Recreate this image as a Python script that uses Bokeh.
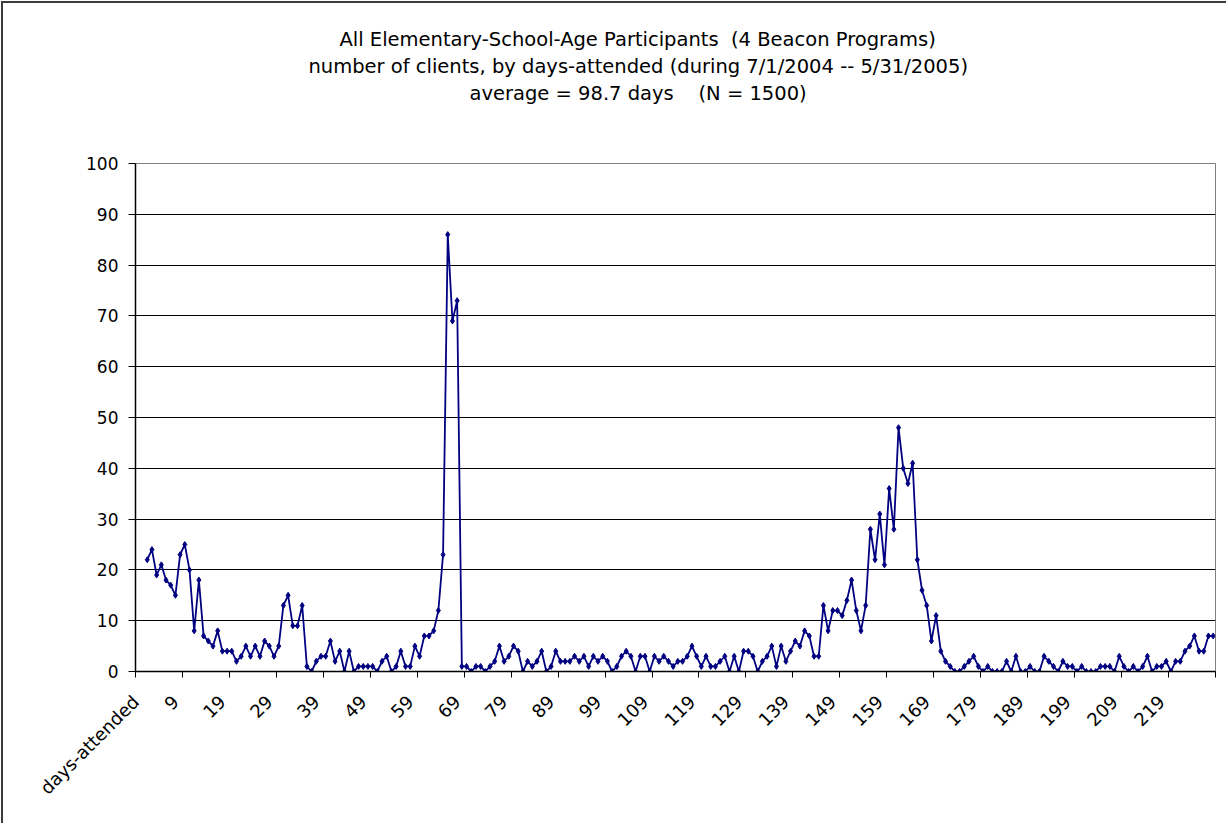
import math

from bokeh.plotting import figure
from bokeh.models import Range1d, FixedTicker, Title
from bokeh.embed import file_html
from bokeh.resources import INLINE

# Number of clients for each count of days attended (1 .. 228)
days = list(range(1, 229))
clients = [
    22, 24, 19, 21, 18, 17, 15, 23, 25, 20,
    8, 18, 7, 6, 5, 8, 4, 4, 4, 2,
    3, 5, 3, 5, 3, 6, 5, 3, 5, 13,
    15, 9, 9, 13, 1, 0, 2, 3, 3, 6,
    2, 4, 0, 4, 0, 1, 1, 1, 1, 0,
    2, 3, 0, 1, 4, 1, 1, 5, 3, 7,
    7, 8, 12, 23, 86, 69, 73, 1, 1, 0,
    1, 1, 0, 1, 2, 5, 2, 3, 5, 4,
    0, 2, 1, 2, 4, 0, 1, 4, 2, 2,
    2, 3, 2, 3, 1, 3, 2, 3, 2, 0,
    1, 3, 4, 3, 0, 3, 3, 0, 3, 2,
    3, 2, 1, 2, 2, 3, 5, 3, 1, 3,
    1, 1, 2, 3, 0, 3, 0, 4, 4, 3,
    0, 2, 3, 5, 1, 5, 2, 4, 6, 5,
    8, 7, 3, 3, 13, 8, 12, 12, 11, 14,
    18, 12, 8, 13, 28, 22, 31, 21, 36, 28,
    48, 40, 37, 41, 22, 16, 13, 6, 11, 4,
    2, 1, 0, 0, 1, 2, 3, 1, 0, 1,
    0, 0, 0, 2, 0, 3, 0, 0, 1, 0,
    0, 3, 2, 1, 0, 2, 1, 1, 0, 1,
    0, 0, 0, 1, 1, 1, 0, 3, 1, 0,
    1, 0, 1, 3, 0, 1, 1, 2, 0, 2,
    2, 4, 5, 7, 4, 4, 7, 7,
]

# Category slots along the x axis: header cell, a blank slot, then each day count
categories = ["days-attended", ""] + [str(d) for d in days]
tick_labels = ["days-attended", "9", "19", "29", "39", "49", "59", "69", "79", "89",
               "99", "109", "119", "129", "139", "149", "159", "169", "179", "189",
               "199", "209", "219"]
y_ticks = [0, 10, 20, 30, 40, 50, 60, 70, 80, 90, 100]

NBSP = "\u00a0"
title_lines = [
    "All Elementary-School-Age Participants " + NBSP + "(4 Beacon Programs)",
    "number of clients, by days-attended (during 7/1/2004 -- 5/31/2005)",
    "average = 98.7 days " + NBSP * 3 + "(N = 1500)",
]
# left offsets (px from the plot frame) that centre each heading line on the chart
title_offsets = [204, 173, 334]

FONT = "DejaVu Sans"
NAVY = "#000080"
TITLE_SIZE = "19.5px"

xs = [categories.index(str(d)) for d in days]
# rotated labels end a little to the left of their category centre
x_lo, x_hi = -0.5, len(categories) - 0.5
label_pos = [max(categories.index(t) - 2, x_lo + 0.05) for t in tick_labels]
boundaries = [i - 0.5 for i in range(0, len(categories) + 1, 10)]

p = figure(
    width=1225, height=822,
    x_range=Range1d(x_lo, x_hi),
    y_range=Range1d(0, 100),
    output_backend="svg", toolbar_location=None,
    min_border_left=132, min_border_right=13,
    min_border_top=160, min_border_bottom=154,
    background_fill_color="white", border_fill_color="white",
    styles={"margin-left": "1px", "margin-top": "1px",
            "border-left": "2px solid #3c3c3c", "border-top": "2px solid #3c3c3c"},
)
p.outline_line_color = "#808080"
p.outline_line_width = 1

# x axis: labels on every tenth category, tick marks on category boundaries
xa = p.xaxis[0]
xa.ticker = FixedTicker(ticks=label_pos, minor_ticks=boundaries)
xa.major_label_overrides = {pos: lab for pos, lab in zip(label_pos, tick_labels)}
xa.major_tick_in = 0
xa.major_tick_out = 0
xa.minor_tick_in = 0
xa.minor_tick_out = 6
xa.minor_tick_line_color = "black"
xa.axis_line_color = "black"
xa.axis_line_width = 1.5
xa.major_label_orientation = math.pi / 4
xa.major_label_standoff = 21
xa.major_label_text_font = FONT
xa.major_label_text_font_size = "18px"
xa.major_label_text_color = "black"

ya = p.yaxis[0]
ya.ticker = FixedTicker(ticks=y_ticks)
ya.major_tick_in = 0
ya.major_tick_out = 7
ya.minor_tick_line_color = None
ya.axis_line_color = "black"
ya.axis_line_width = 1.5
ya.major_label_standoff = 10
ya.major_label_text_font = FONT
ya.major_label_text_font_size = "17px"
ya.major_label_text_color = "black"

p.xgrid.visible = False
p.ygrid.ticker = FixedTicker(ticks=y_ticks[1:-1])
p.ygrid.grid_line_color = "black"
p.ygrid.grid_line_width = 1

p.line(xs, clients, line_color=NAVY, line_width=1.8)
p.scatter(xs, clients, marker="diamond", size=6, fill_color=NAVY, line_color=NAVY)

# heading block: an empty spacer next to the plot, then the lines bottom-up
p.add_layout(Title(text=NBSP, text_font=FONT, text_font_size=TITLE_SIZE,
                   standoff=33), "above")
for line, off in zip(reversed(title_lines), reversed(title_offsets)):
    p.add_layout(Title(
        text=line, align="left", offset=off, standoff=2,
        text_font=FONT, text_font_size=TITLE_SIZE, text_font_style="normal",
        text_color="black",
    ), "above")

open("out.html", "w").write(file_html(p, INLINE))
